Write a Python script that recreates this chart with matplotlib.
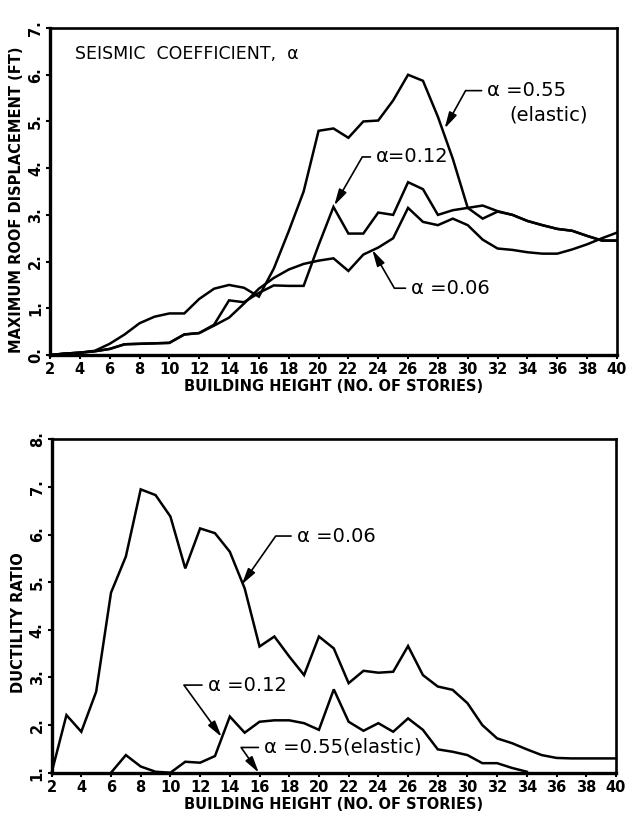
import matplotlib
matplotlib.use("Agg")
import matplotlib.pyplot as plt

stories = list(range(2, 41))

# maximum roof displacement (ft), stories 2..40
disp_055 = [0.0, 0.03, 0.05, 0.09, 0.24, 0.44, 0.68, 0.82, 0.89, 0.89, 1.2, 1.42, 1.5,
            1.44, 1.25, 1.85, 2.65, 3.5, 4.8, 4.85, 4.65, 5.0, 5.02, 5.45, 6.0, 5.87,
            5.1, 4.2, 3.15, 2.92, 3.07, 3.0, 2.87, 2.78, 2.7, 2.66, 2.55, 2.45, 2.45]
disp_012 = [0.0, 0.03, 0.05, 0.08, 0.13, 0.23, 0.24, 0.25, 0.26, 0.44, 0.47, 0.65, 1.17,
            1.13, 1.33, 1.49, 1.48, 1.48, 2.35, 3.17, 2.6, 2.6, 3.05, 3.0, 3.7, 3.55,
            3.0, 3.1, 3.15, 3.2, 3.08, 3.0, 2.87, 2.78, 2.7, 2.66, 2.55, 2.45, 2.45]
disp_006 = [0.0, 0.03, 0.05, 0.08, 0.13, 0.23, 0.24, 0.25, 0.26, 0.44, 0.47, 0.63, 0.8,
            1.1, 1.42, 1.65, 1.83, 1.95, 2.02, 2.07, 1.8, 2.15, 2.3, 2.5, 3.15, 2.85,
            2.78, 2.92, 2.78, 2.47, 2.28, 2.25, 2.2, 2.17, 2.17, 2.26, 2.37, 2.5, 2.62]

# ductility ratio
duct_006 = [1.0, 2.21, 1.86, 2.7, 4.78, 5.54, 6.95, 6.83, 6.38, 5.29, 6.13, 6.03, 5.64,
            4.87, 3.65, 3.86, 3.44, 3.05, 3.86, 3.61, 2.88, 3.14, 3.1, 3.12, 3.66, 3.05,
            2.81, 2.74, 2.46, 2.0, 1.72, 1.62, 1.49, 1.37, 1.31, 1.3, 1.3, 1.3, 1.3]
duct_012_stories = list(range(6, 35))
duct_012 = [1.0, 1.37, 1.13, 1.02, 1.0, 1.23, 1.21, 1.35, 2.18, 1.84, 2.07, 2.1, 2.1,
            2.04, 1.9, 2.75, 2.07, 1.88, 2.04, 1.86, 2.14, 1.9, 1.49, 1.44, 1.37, 1.2,
            1.2, 1.1, 1.02]

xticks = list(range(2, 41, 2))
tick_font = dict(family="DejaVu Sans", weight="bold", size=10.5)
note_font = dict(family="DejaVu Sans", size=14)


def style_axes(ax, ymin, ymax, ylabel, label_y):
    ax.set_xlim(2, 40)
    ax.set_ylim(ymin, ymax)
    for side in ["left", "bottom"]:
        ax.spines[side].set_linewidth(2.4)
    for side in ["top", "right"]:
        ax.spines[side].set_linewidth(1.9)
    ax.set_xticks(xticks)
    ax.set_xticklabels([str(t) for t in xticks], fontdict=tick_font)
    yt = list(range(ymin, ymax + 1))
    ax.set_yticks(yt)
    ax.set_yticklabels([f"{t}." for t in yt], fontdict=tick_font, rotation=90, va="center")
    ax.tick_params(axis="both", direction="out", length=3, width=1.5, pad=2)
    ax.set_xlabel("BUILDING HEIGHT (NO. OF STORIES)", fontdict=tick_font, labelpad=1.5)
    ax.set_ylabel(ylabel, fontdict=tick_font)
    ax.yaxis.set_label_coords(-0.046, label_y)


def leader(ax, text, xytext, xy, angle):
    ax.annotate(text, xy=xy, xytext=xytext, ha="left", va="center", **note_font,
                arrowprops=dict(arrowstyle="-|>,head_length=0.7,head_width=0.18",
                                connectionstyle=f"angle,angleA=0,angleB={angle},rad=0",
                                relpos=(0, 0.5), shrinkB=0, color="black", lw=1.2))


fig = plt.figure(figsize=(6.37, 8.15), dpi=100)
ax1 = fig.add_axes([0.0785, 0.5644, 0.890, 0.4012])
ax2 = fig.add_axes([0.081, 0.0519, 0.886, 0.409])

line_kw = dict(color="black", lw=1.8, solid_joinstyle="miter")
ax1.plot(stories, disp_055, **line_kw)
ax1.plot(stories, disp_012, **line_kw)
ax1.plot(stories, disp_006, **line_kw)
style_axes(ax1, 0, 7, "MAXIMUM ROOF DISPLACEMENT (FT)", 0.474)

ax1.text(3.68, 6.45, "SEISMIC  COEFFICIENT,  α", ha="left", va="center",
         family="DejaVu Sans", size=12.5)
leader(ax1, "α =0.55", (31.3, 5.66), (28.45, 4.85), 61)
ax1.text(32.8, 5.14, "(elastic)", ha="left", va="center", **note_font)
leader(ax1, "α=0.12", (23.85, 4.24), (21.05, 3.2), 60)
leader(ax1, "α =0.06", (26.2, 1.43), (23.6, 2.25), -60)

ax2.plot(stories, duct_006, clip_on=False, **line_kw)
ax2.plot(duct_012_stories, duct_012, clip_on=False, **line_kw)
style_axes(ax2, 1, 8, "DUCTILITY RATIO", 0.45)

leader(ax2, "α =0.06", (18.5, 5.97), (14.8, 4.95), 55)
leader(ax2, "α =0.12", (12.5, 2.84), (13.45, 1.75), 126)
leader(ax2, "α =0.55(elastic)", (16.3, 1.53), (15.95, 1.0), 125)

fig.savefig("out.png", dpi=100)
